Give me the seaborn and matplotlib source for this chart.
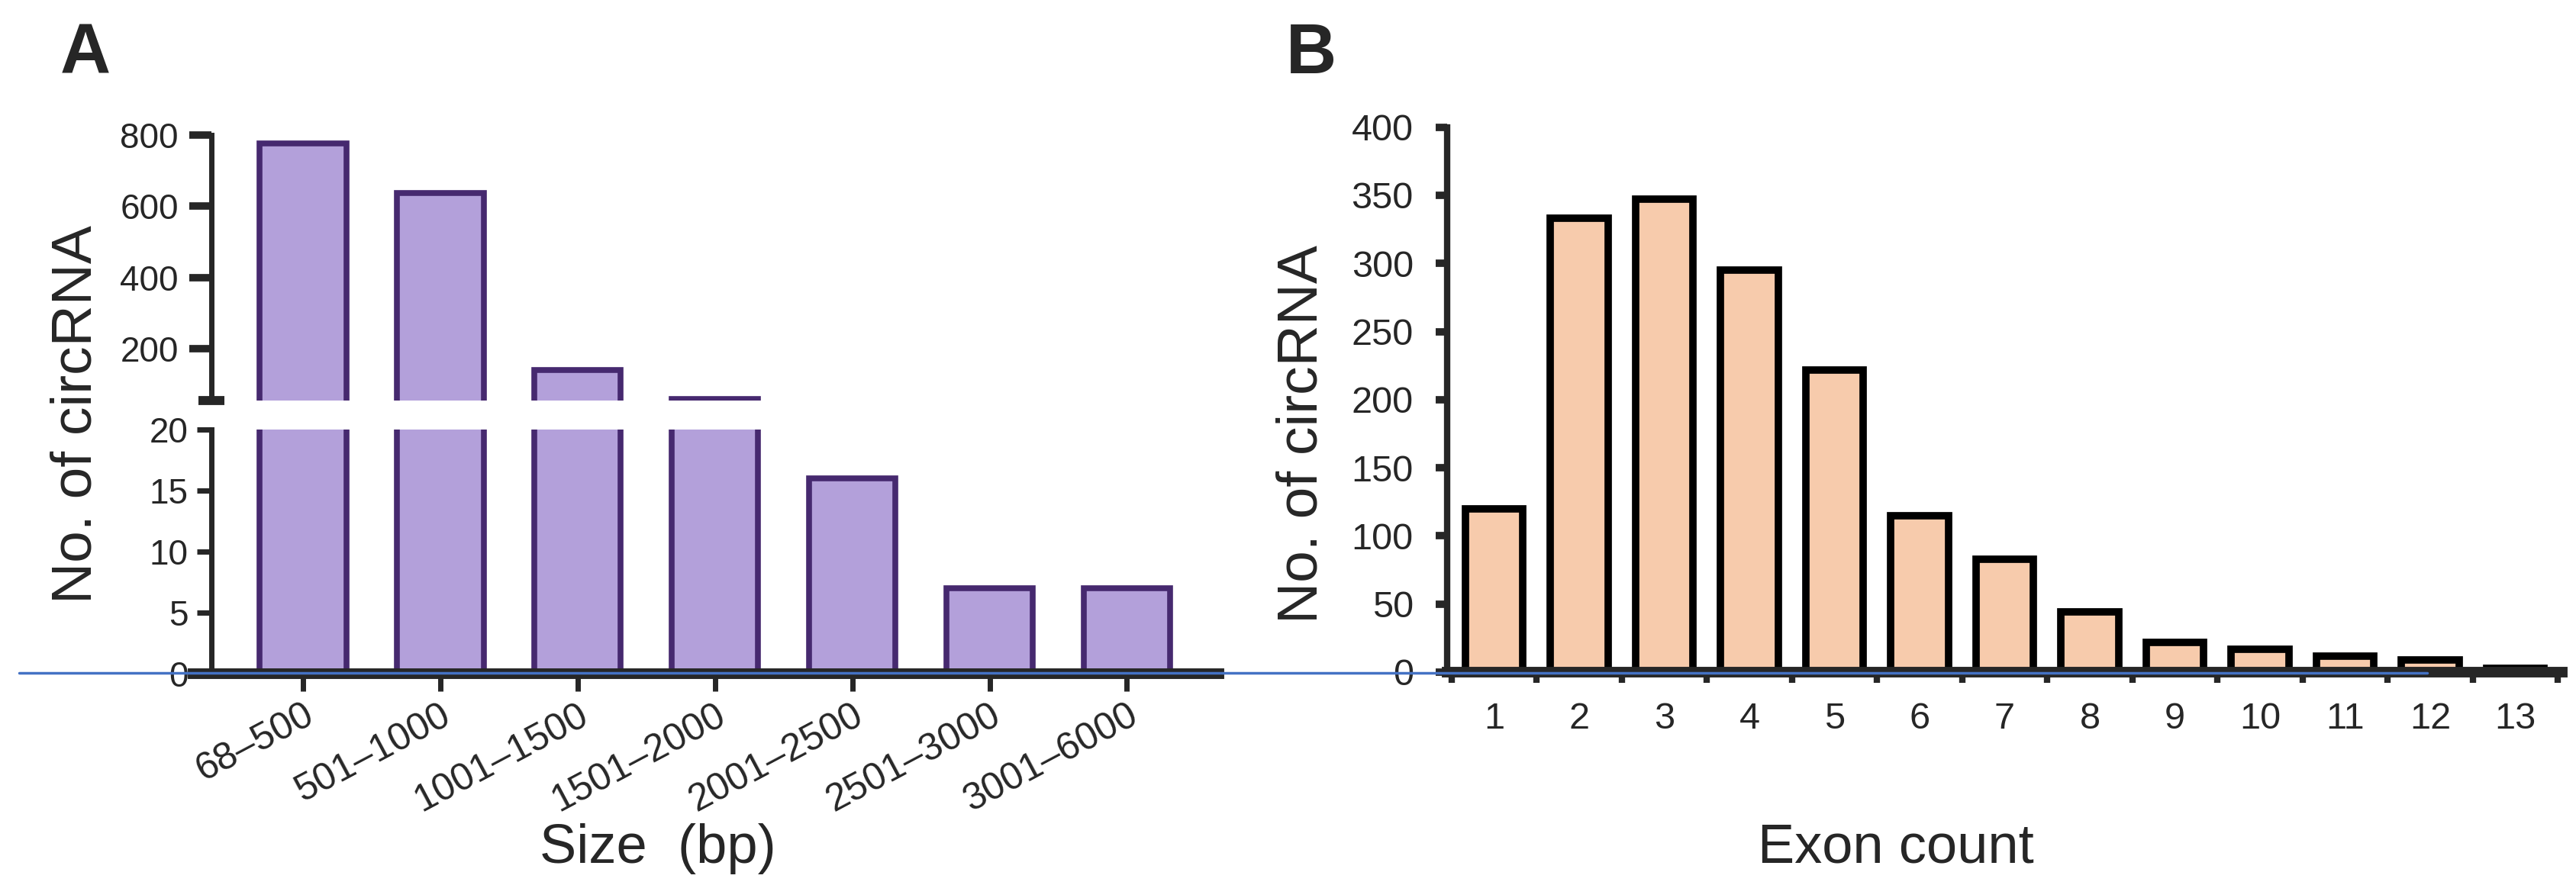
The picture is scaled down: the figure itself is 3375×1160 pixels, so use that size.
import numpy as np
import pandas as pd
import matplotlib
matplotlib.use("Agg")
import matplotlib.pyplot as plt
import seaborn as sns
from matplotlib.lines import Line2D
from matplotlib.ticker import FixedLocator

# Panel A: circRNA size distribution
size_bins = ["68–500", "501–1000", "1001–1500", "1501–2000",
             "2001–2500", "2501–3000", "3001–6000"]
size_counts = [775, 637, 140, 60, 16, 7, 7]
size_ticks_hi = [200, 400, 600, 800]
size_ticks_lo = [0, 5, 10, 15, 20]

# Panel B: exon count per circRNA
exon_labels = ["1", "2", "3", "4", "5", "6", "7", "8", "9", "10", "11", "12", "13"]
exon_freq = [120, 333, 347, 295, 222, 115, 83, 44, 22, 17, 12, 9, 3]
exon_ticks = [0, 50, 100, 150, 200, 250, 300, 350, 400]

PURPLE = "#B3A0DA"
PURPLE_EDGE = "#46296F"
PEACH = "#F7CBAC"

sns.set_style("ticks")
plt.rcParams["font.family"] = ["Liberation Sans", "DejaVu Sans"]

W, H = 3375, 1160
fig = plt.figure(figsize=(W / 100, H / 100), dpi=100)

df_a = pd.DataFrame({"size": size_bins, "count": size_counts})
df_b = pd.DataFrame({"exons": exon_labels, "count": exon_freq})

# ── Panel A, broken y axis ──────────────────────────────────────────────
ax_hi = fig.add_axes([253 / W, 1 - 525 / H, 1344 / W, (525 - 176.7) / H])
ax_lo = fig.add_axes([253 / W, 1 - 883 / H, 1344 / W, (883 - 562.7) / H])

for ax in (ax_hi, ax_lo):
    sns.barplot(data=df_a, x="size", y="count", order=size_bins, ax=ax,
                color=PURPLE, edgecolor=PURPLE_EDGE, linewidth=5.5,
                width=0.63, saturation=1)
    ax.set_xlim(-0.8, 6.67)
    ax.set_xlabel("")
    ax.set_ylabel("")
    ax.spines[["top", "right"]].set_visible(False)
    ax.spines["left"].set_position(("data", -0.667))
    ax.spines["left"].set_linewidth(5)

ax_hi.set_ylim(55, 800)
ax_hi.spines["bottom"].set_visible(False)
ax_hi.set_yticks(size_ticks_hi)
ax_hi.yaxis.set_minor_locator(FixedLocator([55]))
ax_hi.tick_params(axis="x", bottom=False, labelbottom=False)
ax_hi.tick_params(axis="y", which="major", length=21, width=7, pad=10, labelsize=33)
ax_hi.tick_params(axis="y", which="minor", direction="inout", length=24, width=8.5)

ax_lo.set_ylim(0, 20)
ax_lo.set_yticks(size_ticks_lo)
ax_lo.yaxis.set_minor_locator(FixedLocator([20]))
ax_lo.spines["bottom"].set_linewidth(10)
ax_lo.tick_params(axis="y", which="major", length=14, width=5, pad=8, labelsize=33)
ax_lo.tick_params(axis="y", which="minor", direction="inout", length=24, width=8.5)
ax_lo.tick_params(axis="x", which="major", length=16.5, width=5, pad=6, labelsize=36)
for lab in ax_lo.get_xticklabels():
    lab.set_rotation(28)
    lab.set_ha("right")
    lab.set_va("top")
    lab.set_rotation_mode("anchor")

# ── Panel B ─────────────────────────────────────────────────────────────
ax_b = fig.add_axes([1896.2 / W, 1 - 881 / H, 1460.7 / W, (881 - 166.7) / H])
sns.barplot(data=df_b, x="exons", y="count", order=exon_labels, ax=ax_b,
            color=PEACH, edgecolor="black", linewidth=7, width=0.68,
            saturation=1)
ax_b.set_xlim(-0.55, 12.55)
ax_b.set_ylim(0, 400)
ax_b.set_yticks(exon_ticks)
ax_b.set_xlabel("")
ax_b.set_ylabel("")
ax_b.spines[["top", "right"]].set_visible(False)
ax_b.spines["left"].set_linewidth(6)
ax_b.spines["bottom"].set_linewidth(10)
ax_b.xaxis.set_minor_locator(FixedLocator(np.arange(-0.5, 13, 1)))
ax_b.tick_params(axis="x", which="major", length=0, pad=28, labelsize=35)
ax_b.tick_params(axis="x", which="minor", length=10, width=6)
ax_b.tick_params(axis="y", length=11, width=7, pad=21, labelsize=35)

# labels
fig.text(112 / W, 1 - 72 / H, "A", fontsize=66, fontweight="bold", ha="center", va="center")
fig.text(1718 / W, 1 - 72 / H, "B", fontsize=66, fontweight="bold", ha="center", va="center")
fig.text(100 / W, 1 - 543 / H, "No. of circRNA", fontsize=54, rotation=90, ha="center", va="center")
fig.text(1706 / W, 1 - 569 / H, "No. of circRNA", fontsize=54, rotation=90, ha="center", va="center")
fig.text(862 / W, 1 - 1112 / H, "Size  (bp)", fontsize=52, ha="center", va="center")
fig.text(2484 / W, 1 - 1112 / H, "Exon count", fontsize=52, ha="center", va="center")

# thin blue rule that runs across the source figure
fig.add_artist(Line2D([25 / W, 3180 / W], [1 - 881.5 / H] * 2, transform=fig.transFigure,
                      color="#4472C4", lw=2.5, zorder=10))

fig.savefig("out.png", dpi=100, facecolor="white")
